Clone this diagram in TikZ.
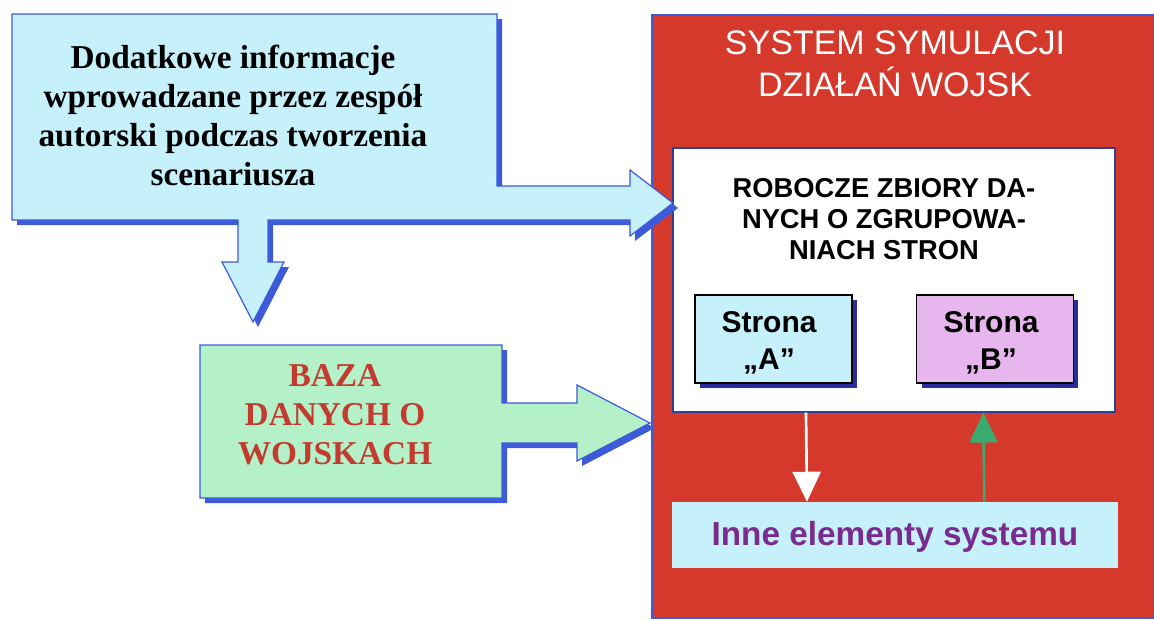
\documentclass[tikz,border=0pt]{standalone}
\usepackage{fontspec}
\setmainfont{Liberation Serif}
\setsansfont{Liberation Sans}
\usetikzlibrary{arrows.meta}

\definecolor{cyanfill}{HTML}{C6F1FB}
\definecolor{bluedge}{HTML}{3D5BD9}
\definecolor{greenfill}{HTML}{B4F0C8}
\definecolor{sysred}{HTML}{D5392C}
\definecolor{bazared}{HTML}{C23B2E}
\definecolor{innepurple}{HTML}{7A2C8E}
\definecolor{pinkfill}{HTML}{E8B6EE}
\definecolor{flowgreen}{HTML}{3AAA6E}
\definecolor{sideshadow}{HTML}{2B2B9C}

\begin{document}
\begin{tikzpicture}[x=0.75pt,y=-0.75pt,
  blockshadow/.style={fill=bluedge},
  blockbody/.style={draw=bluedge,line width=0.9pt},
  sysframe/.style={draw=bluedge,line width=1pt,fill=sysred,minimum width=376.5pt,minimum height=452.25pt,inner sep=0pt},
  workbox/.style={draw=bluedge!70!black,line width=0.8pt,fill=white,minimum width=331.5pt,minimum height=198pt,inner sep=0pt},
  sidebox/.style={draw=black,line width=1.1pt,minimum width=117.5pt,minimum height=66pt,inner sep=0pt},
  sidetext/.style={align=center,font=\sffamily\bfseries\fontsize{22.5}{27.75}\selectfont},
  innebox/.style={fill=cyanfill,minimum width=334.5pt,minimum height=49.5pt,inner sep=0pt},
  serifbold/.style={font=\rmfamily\bfseries\fontsize{25}{29.25}\selectfont,align=center},
  flowarrow/.style={line width=2pt,-{Triangle[width=21pt,length=22.5pt]}}
]
\useasboundingbox (0,0) rectangle (1154,621);
\fill[white] (0,0) rectangle (1154,621);

% --- simulation system frame ---
\node[sysframe] (sys) at (903,316.5) {};
\node[font=\sffamily\fontsize{25.5}{31.5}\selectfont,text=white,align=center] (systitle) at (895,64)
  {SYSTEM SYMULACJI\\DZIAŁAŃ WOJSK};

% working data sets
\node[workbox] (work) at (894,280) {};
\node[font=\sffamily\bfseries\fontsize{20.5}{23.25}\selectfont,align=center] (worktitle) at (884,219)
  {ROBOCZE ZBIORY DA-\\NYCH O ZGRUPOWA-\\NIACH STRON};

% sides A and B with drop shadows
\fill[sideshadow] (700,300) rectangle (857,388);
\fill[sideshadow] (922,300) rectangle (1078,388);
\node[sidebox,fill=cyanfill] (sideA) at (773.5,339) {};
\node[sidebox,fill=pinkfill] (sideB) at (995,339) {};
\node[sidetext] (sideAtext) at (769,343) {Strona\\„A”};
\node[sidetext] (sideBtext) at (991,343) {Strona\\„B”};

% other system elements
\node[innebox] (inne) at (895,535) {};
\node[font=\sffamily\bfseries\fontsize{25}{30}\selectfont,text=innepurple,anchor=base] (innetext) at (895,545)
  {Inne elementy systemu};

% data flow between the working sets and the rest of the system
\draw[flowarrow,white] ([xshift=-66pt]work.south) -- ([xshift=-66pt]inne.north);
\draw[flowarrow,flowgreen] ([xshift=67pt]inne.north) -- ([xshift=67pt]work.south);

% --- additional information block with its two arrows ---
\def\infoshape{(12,14) -- (497,14) -- (497,186) -- (630,186) -- (630,170) -- (673,203)
  -- (630,236) -- (630,220) -- (268,220) -- (268,262) -- (284,262) -- (253,322)
  -- (222,262) -- (238,262) -- (238,220) -- (12,220) -- cycle}
\fill[blockshadow,shift={(5,5)}] \infoshape;
\filldraw[blockbody,fill=cyanfill] \infoshape;
\node[serifbold] (info) at (233,115)
  {Dodatkowe informacje\\wprowadzane przez zespół\\autorski podczas tworzenia\\scenariusza};

% --- troop database block with its arrow ---
\def\bazashape{(200,345) -- (502,345) -- (502,403) -- (577,403) -- (577,385) -- (650,423)
  -- (577,461) -- (577,443) -- (502,443) -- (502,498) -- (200,498) -- cycle}
\fill[blockshadow,shift={(5,5)}] \bazashape;
\filldraw[blockbody,fill=greenfill] \bazashape;
\node[serifbold,text=bazared] (baza) at (335,415) {BAZA\\DANYCH O\\WOJSKACH};
\end{tikzpicture}
\end{document}
